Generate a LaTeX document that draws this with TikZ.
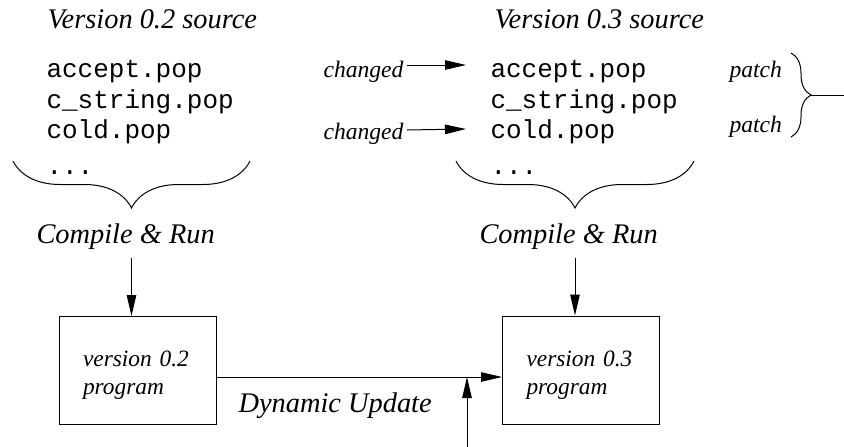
\documentclass[tikz,border=0pt]{standalone}
\usepackage{fontspec}
\setmainfont{Liberation Serif}
\setmonofont{Liberation Mono}
\usetikzlibrary{arrows.meta,decorations.pathreplacing}

\begin{document}
\begin{tikzpicture}[x=1pt,y=-1pt,line width=1pt,
lbl/.style={font=\fontsize{28.4}{34}\selectfont\itshape,inner sep=0pt,anchor=base west},
note/.style={font=\fontsize{23.6}{28}\selectfont\itshape,inner sep=0pt},
file/.style={font=\fontsize{26}{30}\selectfont\ttfamily,inner sep=0pt,anchor=base west},
prog/.style={draw,minimum width=157pt,minimum height=108pt,text width=109pt,text depth=23pt,
  align=left,inner sep=0pt,font=\fontsize{23.4}{28}\selectfont\itshape},
arr/.style={-{Triangle[length=21pt,width=9.5pt]}},
brc/.style={decorate,decoration={brace,amplitude=#1}}]
\useasboundingbox (0,0) rectangle (844,447);

\node[lbl] (head2) at (47,28) {Version 0.2 source};
\node[lbl] (head3) at (494,28) {Version 0.3 source};

\node[file] (old1) at (46,77) {accept.pop};
\node[file] (old2) at (46,108) {c\_string.pop};
\node[file] (old3) at (46,138) {cold.pop};
\node[file] (old4) at (46,174) {...};
\node[file] (new1) at (490,77) {accept.pop};
\node[file] (new2) at (490,108) {c\_string.pop};
\node[file] (new3) at (490,138) {cold.pop};
\node[file] (new4) at (490,174) {...};

\node[note,anchor=base east] (chg1) at (404,77) {changed};
\node[note,anchor=base east] (chg3) at (404,139) {changed};
\node[note,anchor=base west] (pat1) at (729,77) {patch};
\node[note,anchor=base west] (pat3) at (729,132) {patch};

\draw[arr] ([xshift=3pt,yshift=12pt]chg1.base east) -- ([xshift=-24pt,yshift=12pt]new1.base west);
\draw[arr] ([xshift=3pt,yshift=9pt]chg3.base east) -- ([xshift=-24pt,yshift=9pt]new3.base west);

\coordinate (ptop) at (791,53);
\coordinate (pbot) at (791,137);
\coordinate (pout) at (811,95);
\coordinate (pend) at (844,95);
\draw[brc=20pt] (ptop) -- (pbot);
\draw (pout) -- (pend);

\coordinate (l2) at (13,161);
\coordinate (r2) at (250,161);
\coordinate (tip2) at (131.5,208);
\coordinate (l3) at (456,161);
\coordinate (r3) at (694,161);
\coordinate (tip3) at (575,208);
\draw[brc=47pt] (r2) -- (l2);
\draw[brc=47pt] (r3) -- (l3);

\node[lbl] (run2) at (36,243) {Compile \& Run};
\node[lbl] (run3) at (479,243) {Compile \& Run};

\node[prog] (prog2) at (137.5,370.5) {version 0.2\\program};
\node[prog] (prog3) at (581,370) {version 0.3\\program};

\node[lbl] (dyn) at (238,412) {Dynamic Update};

\draw[arr,shorten <=8pt] (tip2 |- run2.south) -- (tip2 |- prog2.north);
\draw[arr,shorten <=8pt] (tip3 |- run3.south) -- (tip3 |- prog3.north);

\coordinate (join) at (467,377);
\coordinate (feed) at (467,447);
\draw[arr] (prog2.east |- join) -- (prog3.west |- join);
\draw[arr] (feed) -- (join);
\end{tikzpicture}
\end{document}
